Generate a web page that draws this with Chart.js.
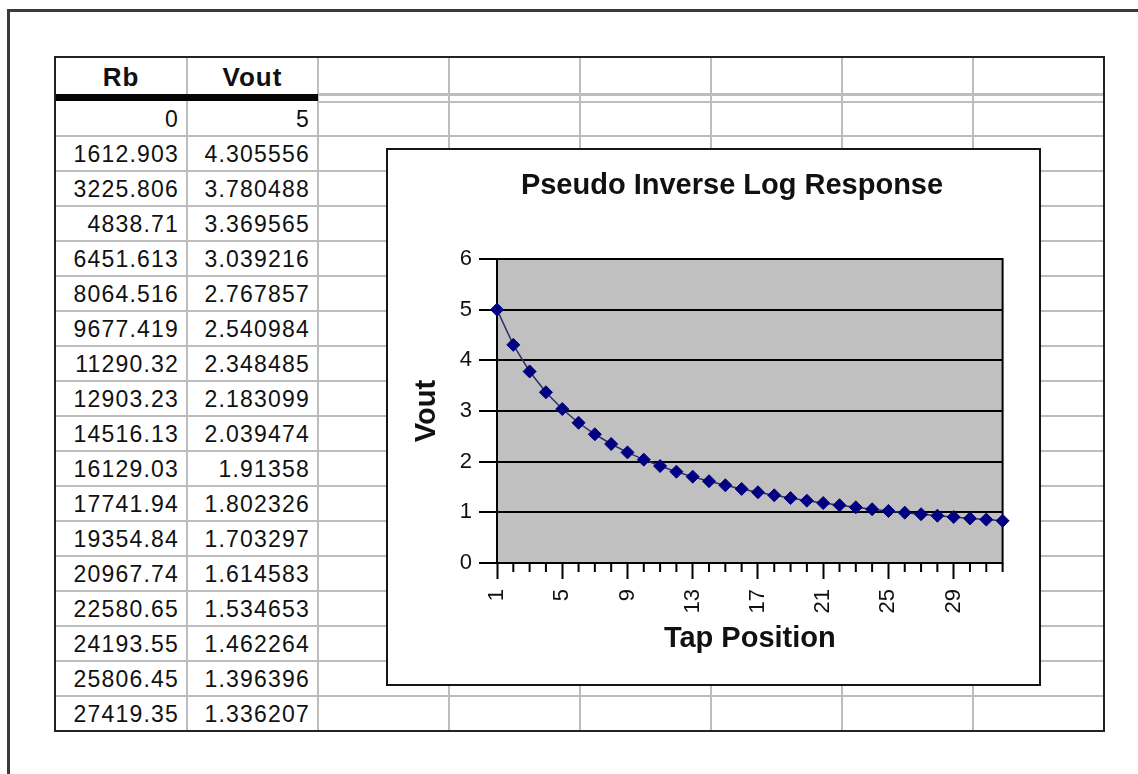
<!DOCTYPE html>
<html>
<head>
<meta charset="utf-8">
<title>Pseudo Inverse Log Response</title>
<script src="https://cdn.jsdelivr.net/npm/chart.js@4.4.1/dist/chart.umd.min.js"></script>
<style>
  html, body { margin: 0; padding: 0; background: #fff; }
  body {
    width: 1138px; height: 774px; position: relative; overflow: hidden;
    font-family: "Liberation Sans", Arial, sans-serif; color: #111;
  }
  .frame-top { position: absolute; left: 7px; top: 9px; width: 1131px; height: 3px; background: #3a3a3a; }
  .frame-left { position: absolute; left: 7px; top: 9px; width: 3px; height: 765px; background: #3a3a3a; }
  .line { position: absolute; }
  .cell {
    position: absolute; box-sizing: border-box; text-align: right;
    font-size: 23px; letter-spacing: 1.2px; line-height: 36px; padding-right: 8px;
  }
  .head {
    position: absolute; text-align: center; font-weight: bold;
    font-size: 26px; letter-spacing: 1px; line-height: 40px;
  }
  #chartBox {
    position: absolute; left: 386px; top: 148px; width: 651px; height: 534px;
    border: 2px solid #151515; background: #fff;
  }
  #chart { display: block; }
</style>
</head>
<body>
<div class="frame-top"></div>
<div class="frame-left"></div>
<div id="sheet"></div>
<div id="chartBox"><canvas id="chart" width="651" height="534"></canvas></div>

<script>
// ---- data ----
const tableHeaders = ['Rb', 'Vout'];
const rbValues = [
  0, 1612.903, 3225.806, 4838.71, 6451.613, 8064.516, 9677.419, 11290.32, 12903.23,
  14516.13, 16129.03, 17741.94, 19354.84, 20967.74, 22580.65, 24193.55, 25806.45, 27419.35,
];
const voutValues = [
  5, 4.305556, 3.780488, 3.369565, 3.039216, 2.767857, 2.540984, 2.348485,
  2.183099, 2.039474, 1.91358, 1.802326, 1.703297, 1.614583, 1.534653, 1.462264,
  1.396396, 1.336207, 1.280992, 1.230159, 1.183206, 1.139706, 1.099291, 1.061644,
  1.02649, 0.99359, 0.962733, 0.933735, 0.906433, 0.880682, 0.856354, 0.833333,
];
const tapPositions = [
  '1', '2', '3', '4', '5', '6', '7', '8', '9', '10', '11', '12', '13', '14', '15', '16',
  '17', '18', '19', '20', '21', '22', '23', '24', '25', '26', '27', '28', '29', '30', '31', '32',
];
const chartTitle = 'Pseudo Inverse Log Response';
const xTitle = 'Tap Position';
const yTitle = 'Vout';

// ---- spreadsheet grid ----
const colX = [55, 187, 318, 449, 580, 711, 842, 973, 1104];
const headTop = 57, headBottom = 94, bodyTop = 101, rowH = 35;
const bodyBottom = bodyTop + rowH * rbValues.length;
const sheet = document.getElementById('sheet');

function box(cls, x, y, w, h, bg, text) {
  const d = document.createElement('div');
  d.className = cls;
  d.style.left = x + 'px';
  d.style.top = y + 'px';
  d.style.width = w + 'px';
  d.style.height = h + 'px';
  if (bg) d.style.background = bg;
  if (text !== undefined) d.textContent = text;
  sheet.appendChild(d);
}

const gray = '#bdbdbd';
for (let c = 1; c < colX.length - 1; c++) {
  box('line', colX[c] - 1, headTop, 2, bodyBottom - headTop, gray);
}
for (let r = 1; r < rbValues.length; r++) {
  box('line', colX[0], bodyTop + r * rowH - 1, colX[8] - colX[0], 2, gray);
}
// double rule under the header on the empty columns
box('line', colX[2], headBottom - 1, colX[8] - colX[2], 3, gray);
box('line', colX[2], bodyTop, colX[8] - colX[2], 2, gray);
// heavy rule under Rb / Vout
box('line', colX[0], headBottom, colX[2] - colX[0], bodyTop - headBottom, '#050505');
// outer border
box('line', colX[0] - 1, headTop - 1, colX[8] - colX[0] + 2, 2, '#222');
box('line', colX[0] - 1, bodyBottom - 1, colX[8] - colX[0] + 2, 2, '#222');
box('line', colX[0] - 1, headTop - 1, 2, bodyBottom - headTop + 1, '#222');
box('line', colX[8] - 1, headTop - 1, 2, bodyBottom - headTop + 1, '#222');

tableHeaders.forEach((h, c) => {
  box('head', colX[c], headTop, colX[c + 1] - colX[c], headBottom - headTop, null, h);
});
rbValues.forEach((rb, r) => {
  const y = bodyTop + r * rowH;
  box('cell', colX[0], y, colX[1] - colX[0], rowH, null, String(rb));
  box('cell', colX[1], y, colX[2] - colX[1], rowH, null, String(voutValues[r]));
});

// ---- chart ----
const fontFamily = '"Liberation Sans", Arial, sans-serif';

const plotFrame = {
  id: 'plotFrame',
  beforeDraw(chart) {
    const { ctx, chartArea: a } = chart;
    ctx.save();
    ctx.fillStyle = '#c0c0c0';
    ctx.fillRect(a.left, a.top, a.right - a.left, a.bottom - a.top);
    ctx.restore();
  },
  beforeDatasetsDraw(chart) {
    const { ctx, chartArea: a } = chart;
    const x = chart.scales.x;
    ctx.save();
    ctx.strokeStyle = '#000';
    ctx.lineWidth = 2;
    ctx.strokeRect(a.left, a.top, a.right - a.left, a.bottom - a.top);
    // short minor ticks between the labelled ones
    ctx.beginPath();
    x.ticks.forEach((t, i) => {
      if (i % 4 === 0) return;
      const px = x.getPixelForTick(i);
      ctx.moveTo(px, x.top);
      ctx.lineTo(px, x.top + 9);
    });
    ctx.stroke();
    ctx.restore();
  },
  afterDraw(chart) {
    const { ctx } = chart;
    ctx.save();
    ctx.font = 'bold 29px ' + fontFamily;
    ctx.fillStyle = '#111';
    ctx.textAlign = 'center';
    ctx.textBaseline = 'middle';
    ctx.fillText(chartTitle, 344, 36);
    ctx.restore();
  },
};

new Chart(document.getElementById('chart').getContext('2d'), {
  type: 'line',
  data: {
    labels: tapPositions,
    datasets: [{
      data: voutValues,
      borderColor: '#30306a',
      borderWidth: 1.5,
      pointStyle: 'rectRot',
      pointRadius: 6.5,
      pointBackgroundColor: '#000080',
      pointBorderColor: '#000080',
      pointBorderWidth: 1,
      tension: 0,
      clip: false,
    }],
  },
  options: {
    responsive: false,
    animation: false,
    layout: { padding: { top: 109, right: 36, bottom: 0, left: 0 } },
    plugins: {
      legend: { display: false },
      tooltip: { enabled: false },
      title: { display: false },
    },
    scales: {
      x: {
        offset: false,
        grid: {
          drawOnChartArea: false,
          tickLength: 16,
          tickWidth: 2,
          tickColor: (c) => (c.index % 4 === 0 ? '#000' : 'rgba(0,0,0,0)'),
        },
        border: { display: true, color: '#000', width: 2 },
        ticks: {
          autoSkip: false,
          minRotation: 90,
          maxRotation: 90,
          padding: 10,
          color: '#111',
          font: { family: fontFamily, size: 22 },
          callback: (v, i) => (i % 4 === 0 ? tapPositions[i] : ''),
        },
        title: {
          display: true,
          text: xTitle,
          color: '#111',
          font: { family: fontFamily, size: 29, weight: 'bold' },
          padding: { top: 0, bottom: 28 },
        },
        afterFit: (s) => { s.height = 121; },
      },
      y: {
        min: 0,
        max: 6,
        ticks: {
          stepSize: 1,
          padding: 7,
          color: '#111',
          font: { family: fontFamily, size: 22 },
        },
        grid: { color: '#000', lineWidth: 2, tickLength: 18, tickColor: '#000', tickWidth: 2 },
        border: { display: true, color: '#000', width: 2 },
        title: {
          display: true,
          text: yTitle,
          color: '#111',
          font: { family: fontFamily, size: 29, weight: 'bold' },
          padding: { top: 22, bottom: 0 },
        },
        afterFit: (s) => { s.width = 109; },
      },
    },
  },
  plugins: [plotFrame],
});
</script>
</body>
</html>
